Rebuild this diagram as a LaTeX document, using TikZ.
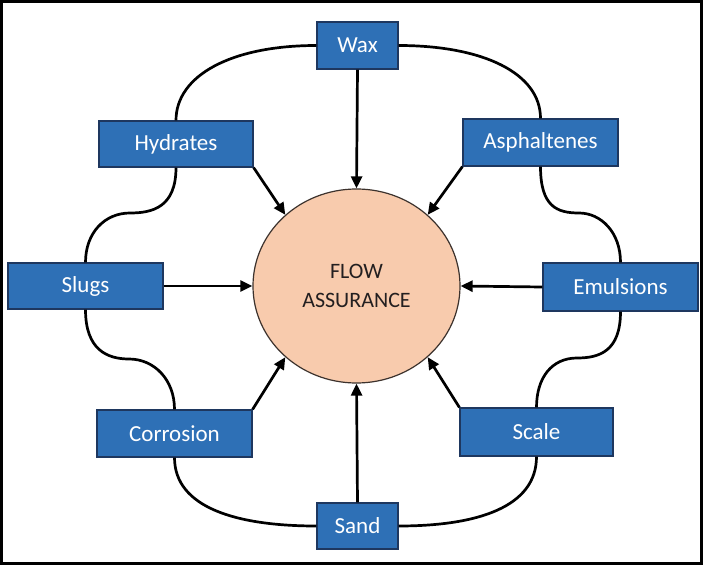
\documentclass[tikz,border=0pt]{standalone}
\usepackage{fontspec}
\setmainfont{Carlito}
\usetikzlibrary{arrows.meta,shapes.geometric}
\definecolor{boxblue}{RGB}{46,112,182}
\definecolor{boxline}{RGB}{30,55,95}
\definecolor{peach}{RGB}{248,203,173}
\definecolor{circline}{RGB}{60,50,45}
\definecolor{txtdark}{RGB}{35,31,32}
\tikzset{
  fbox/.style={draw=boxline, line width=1.2pt, fill=boxblue, text=white,
    inner sep=0pt, font=\fontsize{23}{27}\selectfont},
  link/.style={line width=2.7pt, black},
  feed/.style={line width=2.7pt, black, -{Triangle[length=12pt,width=11pt]}},
}
\begin{document}
\begin{tikzpicture}[x=1pt,y=1pt]
\useasboundingbox (0,0) rectangle (706,-569);
\fill[white] (0,0) rectangle (706,-569);
\draw[line width=3pt] (1.5,-1.5) rectangle (701.5,-563.5);

\node[ellipse, draw=circline, line width=1.2pt, fill=peach, minimum width=207pt, minimum height=194pt, inner sep=0pt,
      text=txtdark, align=center, font=\fontsize{22}{29}\selectfont] (c) at (356.5,-286) {FLOW\\ASSURANCE};

\node[fbox, minimum width=81pt, minimum height=47pt] (wax) at (357.5,-45.5) {Wax};
\node[fbox, minimum width=154pt, minimum height=46pt] (hyd) at (176,-144) {Hydrates};
\node[fbox, minimum width=155pt, minimum height=46pt] (slg) at (85.5,-286) {Slugs};
\node[fbox, minimum width=155pt, minimum height=47pt] (cor) at (174.5,-433.5) {Corrosion};
\node[fbox, minimum width=81pt, minimum height=46pt] (snd) at (357.5,-526) {Sand};
\node[fbox, minimum width=153pt, minimum height=48pt] (scl) at (536.5,-432) {Scale};
\node[fbox, minimum width=155pt, minimum height=48pt] (emu) at (620.5,-287) {Emulsions};
\node[fbox, minimum width=155pt, minimum height=47pt] (asp) at (540.5,-142.5) {Asphaltenes};

\coordinate (m1) at (130,-213);
\coordinate (m2) at (129,-359);
\coordinate (m3) at (577,-358);
\coordinate (m4) at (579,-213);

% outer ring of curves
\draw[link] (wax.west) .. controls +(-85,0) and +(0,45) .. (hyd.north);
\draw[link] (hyd.south) .. controls +(0,-40) and +(22,0) .. (m1) .. controls +(-25,0) and +(0,30) .. (slg.north);
\draw[link] (slg.south) .. controls +(0,-40) and +(-22,0) .. (m2) .. controls +(25,0) and +(0,30) .. (cor.north);
\draw[link] (cor.south) .. controls +(0,-50) and +(-80,0) .. (snd.west);
\draw[link] (snd.east) .. controls +(80,0) and +(0,-50) .. (scl.south);
\draw[link] (scl.north) .. controls +(0,30) and +(-25,0) .. (m3) .. controls +(22,0) and +(0,-40) .. (emu.south);
\draw[link] (emu.north) .. controls +(0,30) and +(22,0) .. (m4) .. controls +(-22,0) and +(0,-40) .. (asp.south);
\draw[link] (asp.north) .. controls +(0,45) and +(85,0) .. (wax.east);

% arrows to the centre
\draw[feed] (wax.south) -- (c.north);
\draw[feed] (hyd.south east) -- (c.135);
\draw[feed] (slg.east) -- (c.west);
\draw[feed] (cor.north east) -- (c.225);
\draw[feed] (snd.north) -- (c.south);
\draw[feed] (scl.north west) -- (c.315);
\draw[feed] (emu.west) -- (c.east);
\draw[feed] (asp.south west) -- (c.45);
\end{tikzpicture}
\end{document}
